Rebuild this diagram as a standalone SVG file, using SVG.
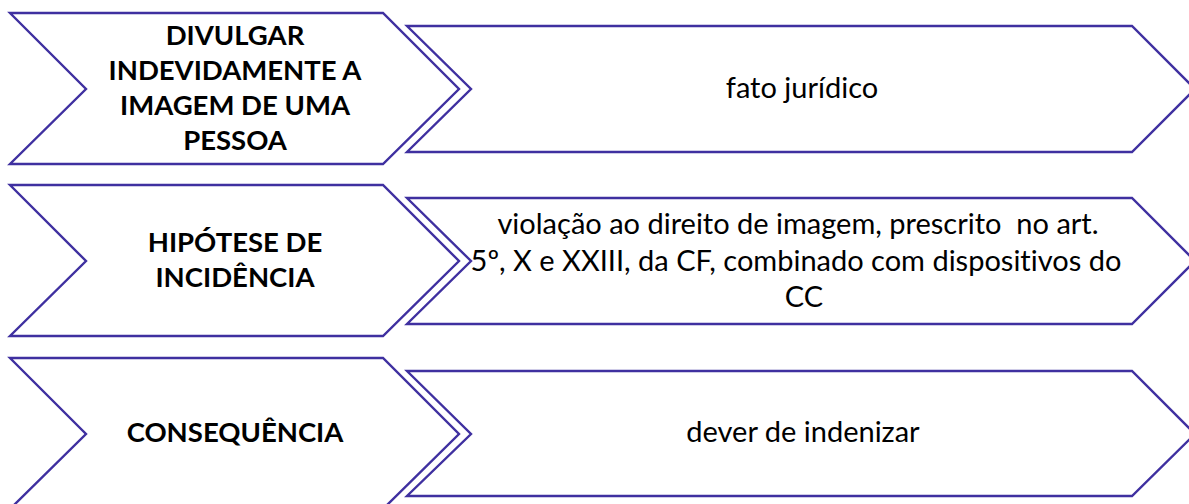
<svg xmlns="http://www.w3.org/2000/svg" width="1189" height="504" viewBox="0 0 1189 504">
<style>
.shape{fill:#ffffff;stroke:#3f30a0;stroke-width:2.4;stroke-linejoin:miter}
.lt{font-family:Lato,"Liberation Sans",sans-serif;font-weight:bold;font-size:27.5px;fill:#000;text-anchor:middle}
.rt{font-family:Lato,"Liberation Sans",sans-serif;font-size:29px;fill:#000;text-anchor:middle;white-space:pre;font-variant-ligatures:none}
</style>
<rect width="1189" height="504" fill="#ffffff"/>
<g id="row1-right">
<path class="shape" d="M407,26 L1132,26 L1195,89 L1132,152 L407,152 L471,89 Z"/>
<text class="rt" x="802" y="98">fato jurídico</text>
</g>
<g id="row1-left">
<path class="shape" d="M10,13 L383,13 L459,89 L383,164 L10,164 L86,89 Z"/>
<text class="lt" x="235" y="45">DIVULGAR</text>
<text class="lt" x="235" y="80">INDEVIDAMENTE A</text>
<text class="lt" x="235" y="115">IMAGEM DE UMA</text>
<text class="lt" x="235" y="150">PESSOA</text>
</g>
<g id="row2-right">
<path class="shape" d="M407,198 L1132,198 L1195,261 L1132,324 L407,324 L471,261 Z"/>
<text class="rt" x="798" y="234" xml:space="preserve">violação ao direito de imagem, prescrito  no art.</text>
<text class="rt" x="796" y="271">5º, X e XXIII, da CF, combinado com dispositivos do</text>
<text class="rt" x="804" y="307">CC</text>
</g>
<g id="row2-left">
<path class="shape" d="M10,185 L383,185 L459,261 L383,336 L10,336 L86,261 Z"/>
<text class="lt" x="235" y="252">HIPÓTESE DE</text>
<text class="lt" x="235" y="287">INCIDÊNCIA</text>
</g>
<g id="row3-right">
<path class="shape" d="M407,371 L1132,371 L1195,434 L1132,496 L407,496 L471,434 Z"/>
<text class="rt" x="803" y="442">dever de indenizar</text>
</g>
<g id="row3-left">
<path class="shape" d="M10,358 L383,358 L459,434 L383,509 L10,509 L86,434 Z"/>
<text class="lt" x="235" y="442">CONSEQUÊNCIA</text>
</g>
<g id="connectors"/>
</svg>
